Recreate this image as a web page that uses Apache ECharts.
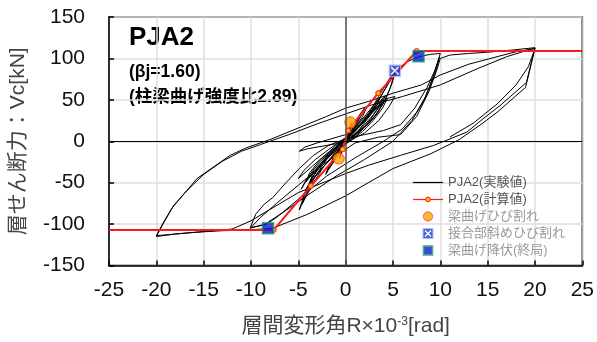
<!DOCTYPE html>
<html>
<head>
<meta charset="utf-8">
<script src="https://cdn.jsdelivr.net/npm/echarts@6/dist/echarts.min.js"></script>
<style>html,body{margin:0;padding:0;background:#fff;}#c{width:597px;height:342px;}</style>
</head>
<body>
<div id="c"></div>
<script>
// ---- data ----
const xTicks = [-25,-20,-15,-10,-5,0,5,10,15,20,25];
const yTicks = [-150,-100,-50,0,50,100,150];

// experimental hysteresis (R x10^-3 rad, Vc kN), traced in order
const loopSmall = [[0,0],[0.3,11],[0.6,21],[0.4,13],[0,1],[-0.3,-9],[-0.6,-19],[-0.4,-11],[0,-1],[0.35,12],[0.65,22],[0.4,12],[0,0],[-0.35,-10],[-0.65,-20],[-0.4,-10],[0,0]];
const loop2 = [[0.5,14],[1,24],[1.6,34],[2,40],[1.7,32],[1.2,22],[0.5,8],[0,-1],[-0.6,-12],[-1.2,-24],[-1.8,-34],[-2.1,-40],[-1.8,-31],[-1.2,-20],[-0.5,-6],[0,3],[0.6,13],[1.2,24],[1.8,34],[2.1,38],[1.8,30],[1.1,18],[0.4,5],[-0.2,-4],[-0.8,-14],[-1.4,-26],[-2,-37],[-1.7,-28],[-1,-15],[-0.3,-2],[0.3,6]];
const loop3 = [[1,17],[2,30],[3,44],[3.7,54],[3.3,44],[2.5,30],[1.5,15],[0.5,3],[-0.5,-8],[-1.5,-20],[-2.5,-33],[-3.5,-47],[-4,-55],[-3.6,-45],[-2.8,-32],[-1.8,-18],[-0.8,-5],[0.2,5],[1.2,16],[2.2,28],[3.2,42],[3.9,52],[3.4,40],[2.6,26],[1.6,12],[0.6,2],[-0.6,-9],[-1.6,-22],[-2.8,-36],[-3.8,-50],[-3.5,-40],[-2.7,-28],[-1.7,-14],[-0.6,-2],[0.3,6]];
const loop4 = [[1.3,20],[2.4,33],[3.5,46],[4.2,55],[3.8,45],[3,33],[2,20],[1,8],[0,-2],[-1,-10],[-2.2,-22],[-3.3,-35],[-4.3,-50],[-4.7,-58],[-4.2,-47],[-3.3,-33],[-2.2,-19],[-1,-7],[0,4],[1.1,15],[2.3,28],[3.4,41],[4.4,52],[3.9,40],[2.9,25],[1.8,12],[0.7,2],[-0.5,-7],[-1.8,-19],[-3,-33],[-4.2,-49],[-3.8,-38],[-2.8,-24],[-1.6,-11],[-0.4,1]];
const loopPinch = [[1.5,18],[3,38],[4.5,52],[5.2,54],[4.6,42],[3.5,25],[2,10],[0.5,1],[-1,-3],[-2.5,-6],[-4,-9],[-4.9,-12],[-4.3,-7],[-3,-2],[-1.5,3],[0,8],[1.5,20],[3,38],[4,50],[3.5,36],[2.5,22],[1,8],[-0.5,-4],[-2,-15],[-3.5,-30],[-5,-45],[-4.4,-35],[-3.2,-22],[-1.8,-10],[-0.3,2]];
const loop5 = [[1,12],[2.5,35],[3.8,60],[4.6,75],[5.3,86],[4.9,70],[4.2,50],[3.2,32],[2,18],[0.5,5],[-0.8,-7],[-2,-22],[-3.2,-42],[-4.2,-65],[-4.9,-83],[-4.4,-65],[-3.6,-45],[-2.6,-28],[-1.5,-13],[-0.3,-1],[0.8,10],[2.2,28],[3.6,52],[4.8,75],[5.1,80],[4.7,64],[3.9,44],[2.8,26],[1.5,12],[0.2,0],[-1,-12],[-2.3,-30],[-3.5,-52],[-4.6,-76],[-4.2,-58],[-3.2,-38],[-2,-20],[-0.8,-6],[0.5,6],[2,24],[3.5,50],[5.3,86]];
const loop10 = [[6.5,96],[7.7,102],[9,105],[10,106],
  [9.3,80],[8.3,50],[7,25],[5,0],[2,-22],[-1,-42],[-4,-65],[-6.5,-85],[-8.5,-100],[-10.1,-105],
  [-9.5,-88],[-8.6,-76],[-7.7,-68],[-6.3,-50],[-4.9,-33],[-3.4,-17],[-1.8,-5],[0,3],[2,8],[4,13],[5.8,20],[7.3,40],[8.6,65],[9.4,85],[9.9,101],
  [9.4,80],[8.5,55],[7.5,35],[6,15],[4,0],[1,-20],[-2,-42],[-5,-70],[-7.3,-92],[-8.5,-101],[-10,-104],
  [-9,-92],[-7.3,-75],[-5,-53],[-2,-25],[1,-2],[3.5,5],[5.8,8],[7.5,30],[8.8,60],[9.6,85],[10,100],[11,104]];
const loop20 = [[13,106],[15,107.5],[17.5,110],[20,113],
  [19.1,71],[16.3,43],[14.5,27],[12.8,11],[9.3,-5],[5.8,-17],[2.4,-29],[0,-39],[-5,-62],[-10,-96],[-12,-106],[-14,-108],[-16,-110],[-18,-112],[-20,-115],
  [-19.3,-100],[-18.3,-80],[-15.7,-45],[-12.2,-17],[-10.5,-8],[-8,2],[-5,16],[-2,30],[0,40],[2.4,48],[5,58],[8,68],[10,80],[13,93],[16.3,103],[18,108],[20,112],
  [19,65],[16,35],[14.5,22],[12,2],[9,-15],[5,-33],[2.4,-50],[0,-66],[-4,-88],[-7.7,-105],[-10,-107],[-13,-108],[-16,-110],[-20,-114],
  [-19.2,-97],[-18.2,-78],[-16.8,-60],[-15,-40],[-13,-24],[-11,-12],[-9,-4],[-6,8],[-3,21],[0,33],[2.8,44],[6,54],[10,68],[14,88],[17,102],[19.5,111],[20,112],
  [19.3,90],[18,68],[16,45],[13.5,22],[11,5]];

// calculated skeleton
const calcX = [-25,-7.6,-3.68,-0.31,0.24,3.44,7.5,25];
const calcY = [-107,-107,-54,-9.8,12.9,58,109,109];
// event points
const crackBeam = [[0.49,22.9],[-0.73,-20.9]];
const crackJoint = [[5.2,85]];
const yieldBeam = [[7.7,102.5],[-8.2,-105]];

const expData = [].concat(loopSmall, loop2, loop3, loop4, loopPinch, loop5, loop10, loop20);
const calcData = calcX.map((x,i)=>{
  const it = {value:[x,calcY[i]]};
  if(i===0||i===calcX.length-1) it.symbol='none';
  return it;
});

function svgUrl(s){return 'image://data:image/svg+xml;charset=utf-8,' + encodeURIComponent(s);}
const xSymbol = svgUrl("<svg xmlns='http://www.w3.org/2000/svg' width='14' height='14' viewBox='0 0 14 14'><rect x='0.75' y='0.75' width='12.5' height='12.5' fill='#1c3ad6' stroke='#9db0ff' stroke-width='1.5'/><path d='M3 3L11 11M11 3L3 11' stroke='#ffffff' stroke-width='1.6'/></svg>");
const iconExp = svgUrl("<svg xmlns='http://www.w3.org/2000/svg' width='30' height='11' viewBox='0 0 30 11'><line x1='0' y1='5.5' x2='30' y2='5.5' stroke='#000' stroke-width='1.2'/></svg>");
const iconCalc = svgUrl("<svg xmlns='http://www.w3.org/2000/svg' width='30' height='11' viewBox='0 0 30 11'><line x1='0' y1='5.5' x2='30' y2='5.5' stroke='#ff1a1a' stroke-width='1.2'/><circle cx='15' cy='5.5' r='2.4' fill='#ffb800' stroke='#ff1a1a' stroke-width='1'/></svg>");
const iconCrack = svgUrl("<svg xmlns='http://www.w3.org/2000/svg' width='30' height='11' viewBox='0 0 30 11'><circle cx='15' cy='5.5' r='4.6' fill='#ffa500' stroke='#ff3300' stroke-width='1'/></svg>");
const iconJoint = svgUrl("<svg xmlns='http://www.w3.org/2000/svg' width='30' height='11' viewBox='0 0 30 11'><rect x='10' y='0.5' width='10' height='10' fill='#1c3ad6' stroke='#9db0ff' stroke-width='1'/><path d='M12 2.5L18 8.5M18 2.5L12 8.5' stroke='#fff' stroke-width='1.4'/></svg>");
const iconYield = svgUrl("<svg xmlns='http://www.w3.org/2000/svg' width='30' height='11' viewBox='0 0 30 11'><rect x='10.5' y='1' width='9' height='9' fill='#0a1ecc' stroke='#1a9a6a' stroke-width='1.5'/></svg>");

const FONT = '"Liberation Sans", Arial, "Noto Sans CJK JP", sans-serif';
const chart = echarts.init(document.getElementById('c'), null, {renderer:'canvas'});
chart.setOption({
  animation:false,
  backgroundColor:'#fff',
  textStyle:{fontFamily:FONT},
  grid:{left:107,right:10,top:17,bottom:74,show:true,borderColor:'#000',borderWidth:1.5,backgroundColor:'transparent'},
  xAxis:{type:'value',min:-25,max:25,interval:5,
    axisLine:{onZero:false,lineStyle:{color:'#000',width:1.5}},
    axisTick:{inside:true,length:5,lineStyle:{color:'#000',width:1.5}},
    axisLabel:{margin:14,fontSize:21,color:'#111',fontFamily:FONT,formatter:v=>String(v)},
    splitLine:{show:true,lineStyle:{color:'#dedede',width:1.5}},
    name:'{a|層間変形角R×10}{s|-3}{a|[rad]}',nameLocation:'middle',nameGap:50,
    nameTextStyle:{rich:{a:{fontSize:21,color:'#444',fontFamily:FONT},s:{fontSize:12,color:'#444',fontFamily:FONT,verticalAlign:'top',padding:[0,0,10,0]}}}
  },
  yAxis:{type:'value',min:-150,max:150,interval:50,
    axisLine:{onZero:false,lineStyle:{color:'#000',width:1.5}},
    axisTick:{inside:true,length:5,lineStyle:{color:'#000',width:1.5}},
    axisLabel:{margin:24,fontSize:21,color:'#111',fontFamily:FONT},
    splitLine:{show:true,lineStyle:{color:'#dedede',width:1.5}},
    name:'層せん断力：Vc[kN]',nameLocation:'middle',nameGap:80,nameRotate:90,
    nameTextStyle:{fontSize:21,color:'#444',fontFamily:FONT}
  },
  legend:{orient:'vertical',left:413,top:176,padding:0,itemWidth:30,itemHeight:11,itemGap:4,
    textStyle:{fontSize:13,fontFamily:FONT,color:'#999'},
    data:[
      {name:'PJA2(実験値)',icon:iconExp,textStyle:{color:'#555'}},
      {name:'PJA2(計算値)',icon:iconCalc,textStyle:{color:'#555'}},
      {name:'梁曲げひび割れ',icon:iconCrack},
      {name:'接合部斜めひび割れ',icon:iconJoint},
      {name:'梁曲げ降伏(終局)',icon:iconYield}
    ]},
  graphic:[
    {type:'text',left:129,top:25,style:{text:'PJA2',fontSize:26,fontWeight:'bold',fontFamily:FONT,fill:'#000'}},
    {type:'text',left:129,top:63,style:{text:'(βj=1.60)',fontSize:17.5,fontWeight:'bold',fontFamily:FONT,fill:'#000'}},
    {type:'text',left:129,top:88,style:{text:'(柱梁曲げ強度比2.89)',fontSize:17.5,fontWeight:'bold',fontFamily:FONT,fill:'#000'}}
  ],
  series:[
    {type:'line',data:[],silent:true,z:1,
      markLine:{silent:true,symbol:'none',label:{show:false},animation:false,
        data:[{xAxis:0,lineStyle:{color:'#555',width:1.5,type:'solid'}},{yAxis:0,lineStyle:{color:'#000',width:1.2,type:'solid'}}]}},
    {name:'PJA2(実験値)',type:'line',data:expData,showSymbol:false,symbol:'none',z:2,
      lineStyle:{color:'#000',width:1},itemStyle:{color:'#000'}},
    {name:'PJA2(計算値)',type:'line',data:calcData,symbol:'circle',symbolSize:5,z:3,
      lineStyle:{color:'#ff1a1a',width:2},itemStyle:{color:'#ffb800',borderColor:'#ff1a1a',borderWidth:1}},
    {name:'梁曲げひび割れ',type:'scatter',data:crackBeam,symbol:'circle',symbolSize:11,z:4,
      itemStyle:{color:'#ffa500',borderColor:'#ff3300',borderWidth:1}},
    {name:'接合部斜めひび割れ',type:'scatter',data:crackJoint,symbol:xSymbol,symbolSize:13,z:4},
    {name:'梁曲げ降伏(終局)',type:'scatter',data:yieldBeam,symbol:'rect',symbolSize:11,z:4,
      itemStyle:{color:'#0a1ecc',borderColor:'#1a9a6a',borderWidth:1.5}}
  ]
});
</script>
</body>
</html>
